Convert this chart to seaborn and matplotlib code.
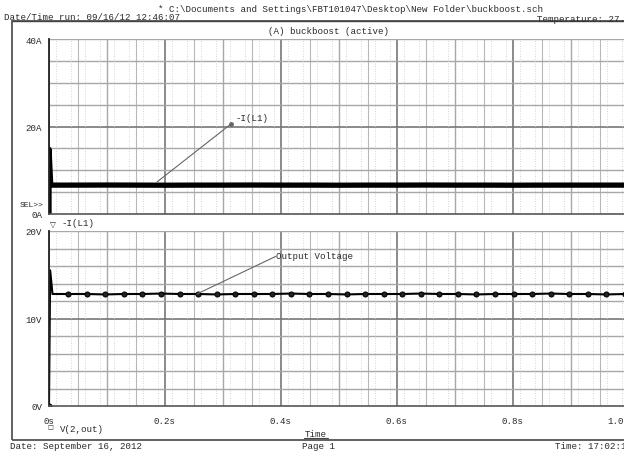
import numpy as np
import pandas as pd
import matplotlib
matplotlib.use("Agg")
import matplotlib.pyplot as plt
import seaborn as sns
from matplotlib.patches import Rectangle

# ---------------- data ----------------
i_time = [0.0, 0.0, 0.003, 0.05, 0.10, 0.15, 0.20, 0.25, 0.30, 0.35, 0.40, 0.45,
          0.50, 0.55, 0.60, 0.65, 0.70, 0.75, 0.80, 0.85, 0.90, 0.95, 1.00]
i_vals = [0.0, 14.8, 6.6, 6.6, 6.62, 6.6, 6.58, 6.6, 6.6, 6.62, 6.6, 6.6,
          6.58, 6.6, 6.6, 6.62, 6.6, 6.6, 6.58, 6.6, 6.6, 6.6, 6.6]

v_time = [0.0, 0.0, 0.002, 0.006, 0.033, 0.065, 0.097, 0.129, 0.161, 0.193, 0.225,
          0.257, 0.289, 0.321, 0.353, 0.385, 0.417, 0.449, 0.481, 0.513, 0.545,
          0.577, 0.609, 0.641, 0.673, 0.705, 0.737, 0.769, 0.801, 0.833, 0.865,
          0.897, 0.929, 0.961, 0.993, 1.0]
v_vals = [0.0, 0.0, 15.5, 12.8, 12.8, 12.8, 12.75, 12.8, 12.8, 12.85, 12.8,
          12.8, 12.75, 12.8, 12.8, 12.8, 12.85, 12.8, 12.8, 12.75, 12.8,
          12.8, 12.8, 12.85, 12.8, 12.8, 12.75, 12.8, 12.8, 12.8, 12.85,
          12.8, 12.8, 12.75, 12.8, 12.8]

x_ticks = [0.0, 0.2, 0.4, 0.6, 0.8, 1.0]
x_tick_labels = ["0s", "0.2s", "0.4s", "0.6s", "0.8s", "1.0s"]
i_ticks = [0, 20, 40]
i_tick_labels = ["0A", "20A", "40A"]
v_ticks = [0, 10, 20]
v_tick_labels = ["0V", "10V", "20V"]

header = "* C:\\Documents and Settings\\FBT101047\\Desktop\\New Folder\\buckboost.sch"
run_info = "Date/Time run: 09/16/12 12:46:07"
temp_info = "Temperature: 27.0"
title = "(A) buckboost (active)"
footer_date = "Date: September 16, 2012"
footer_page = "Page 1"
footer_time = "Time: 17:02:13"

# ---------------- style ----------------
sns.set_style("white")
plt.rcParams["font.family"] = ["Liberation Mono", "DejaVu Sans Mono", "DejaVu Sans"]
FS = 6.6
TXT = "#2a2a2a"

W, H = 624, 452
fig = plt.figure(figsize=(W / 100, H / 100), dpi=100)

def frect(x0, y0, x1, y1):
    return [x0 / W, 1 - y1 / H, (x1 - x0) / W, (y1 - y0) / H]

def ftext(x, y, s, **kw):
    kw.setdefault("fontsize", FS)
    kw.setdefault("color", TXT)
    fig.text(x / W, 1 - y / H, s, **kw)

# outer frame
fig.patches.append(Rectangle((12 / W, 1 - 441 / H), (640 - 12) / W, (441 - 22) / H,
                             transform=fig.transFigure, fill=False,
                             edgecolor="#555555", lw=1.3))

X0, X1 = 49, 629
ax1 = fig.add_axes(frect(X0, 40, X1, 215))
ax2 = fig.add_axes(frect(X0, 232, X1, 407))

def style_axis(ax, ymax, ystep_minor, yticks, ylabels):
    ax.set_xlim(0, 1.0)
    ax.set_ylim(0, ymax)
    for s in ["top", "right"]:
        ax.spines[s].set_visible(False)
    ax.spines["left"].set_color("#222222")
    ax.spines["left"].set_linewidth(1.3)
    ax.spines["bottom"].set_color("#555555")
    ax.spines["bottom"].set_linewidth(1.2)
    for k in range(21):
        xv = k * 0.05
        if k % 4 == 0:
            ax.axvline(xv, color="#8a8a8a", lw=1.4, zorder=0)
        elif k % 2 == 0:
            ax.axvline(xv, color="#a8a8a8", lw=1.0, zorder=0)
        else:
            ax.axvline(xv, color="#b8b8b8", lw=0.8, zorder=0)
    n = int(round(ymax / ystep_minor))
    for k in range(1, n + 1):
        yv = k * ystep_minor
        if abs(yv - ymax / 2) < 1e-9:
            ax.axhline(yv, color="#777777", lw=1.2, zorder=0)
        else:
            ax.axhline(yv, color="#a8a8a8", lw=1.0, zorder=0)
    for k in range(40):
        xv = k * 0.025 + 0.0125
        ax.axvline(xv, color="#c8c8c8", lw=0.6, ls=(0, (1, 2)), zorder=0)
    ax.set_yticks(yticks)
    ax.set_yticklabels(ylabels, fontsize=FS, color=TXT)
    ax.tick_params(axis="y", direction="out", length=3, width=0.8, pad=2, colors="#333333")
    ax.set_xlabel("")
    ax.set_ylabel("")

# top: current
sns.lineplot(x=i_time, y=i_vals, ax=ax1, estimator=None, sort=False,
             color="black", lw=3.8, legend=False)
style_axis(ax1, 40, 5, i_ticks, i_tick_labels)
ax1.set_xticks(x_ticks)
ax1.tick_params(axis="x", length=0, labelbottom=False)
for lab in ax1.get_yticklabels():
    lab.set_color(TXT)

# bottom: voltage
mk = [0] + list(range(4, len(v_time) - 1))
sns.lineplot(x=v_time, y=v_vals, ax=ax2, estimator=None, sort=False,
             color="black", lw=1.5, marker="o", markersize=3.6,
             markeredgecolor="black", markerfacecolor="#222222",
             markevery=mk, legend=False)
style_axis(ax2, 20, 2, v_ticks, v_tick_labels)
ax2.set_xticks(x_ticks)
ax2.set_xticklabels(x_tick_labels, fontsize=FS, color=TXT)
ax2.tick_params(axis="x", direction="out", length=3, width=1.2, pad=4, colors="#333333")
xl = ax2.get_xticklabels()
for lab in xl:
    lab.set_color(TXT)
xl[-1].set_horizontalalignment("right")
for lab in ax2.get_yticklabels():
    lab.set_color(TXT)

# annotations
ax1.plot([0.186, 0.314], [7.3, 20.6], color="#666666", lw=0.8)
ax1.plot([0.314], [20.6], marker="o", color="#666666", markersize=2.5)
ax1.text(0.322, 21.0, "-I(L1)", fontsize=FS, color=TXT, va="bottom", ha="left")
ax2.plot([0.255, 0.391], [12.8, 17.1], color="#666666", lw=0.8)
ax2.text(0.392, 17.2, "Output Voltage", fontsize=FS, color=TXT, va="center", ha="left")

# header / footer texts
ftext(350, 9, header, ha="center", va="center")
ftext(4, 17, run_info, ha="left", va="center")
ftext(537, 19, temp_info, ha="left", va="center")
ftext(328, 31, title, ha="center", va="center")
ftext(43, 206, "SEL>>", ha="right", va="center", fontsize=5.8)
ftext(53, 224, "\u25BD", ha="center", va="center", fontsize=5.5, family=["DejaVu Sans"])
ftext(62, 224, "-I(L1)", ha="left", va="center")
ftext(50, 428, "\u25A1", ha="center", va="center", fontsize=4.5, family=["DejaVu Sans"])
ftext(60, 430, "V(2,out)", ha="left", va="center")
ftext(316, 435, "Time", ha="center", va="center")
fig.lines.append(plt.Line2D([304 / W, 328 / W], [1 - 439 / H, 1 - 439 / H],
                            transform=fig.transFigure, color="#444444", lw=0.8))
fig.lines.append(plt.Line2D([12 / W, 1.0], [1 - 22 / H, 1 - 22 / H],
                            transform=fig.transFigure, color="#444444", lw=1.0))
ftext(10, 447, footer_date, ha="left", va="center")
ftext(302, 447, footer_page, ha="left", va="center")
ftext(555, 447, footer_time, ha="left", va="center")

fig.savefig("out.png", dpi=100)
